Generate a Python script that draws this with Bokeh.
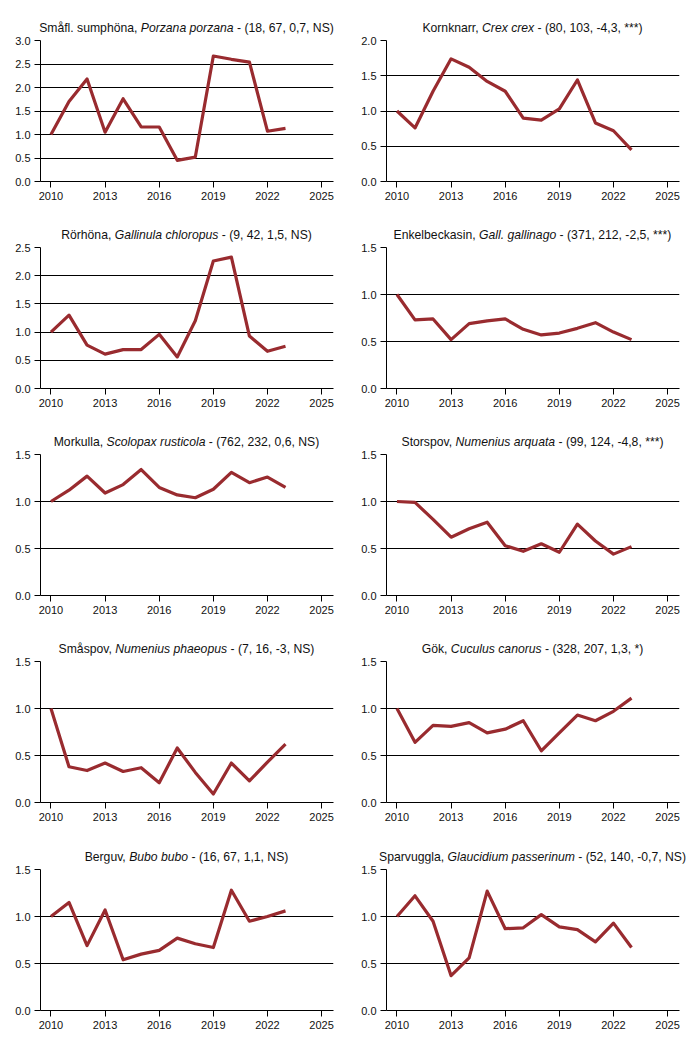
from bokeh.plotting import figure
from bokeh.layouts import column, row
from bokeh.models import Div, Range1d, FixedTicker, PrintfTickFormatter
from bokeh.embed import file_html
from bokeh.resources import INLINE

years = list(range(2010, 2024))
x_ticks = [2010, 2013, 2016, 2019, 2022, 2025]

# Index values (2010 = 1.0)
smafl_sumphona = [1.0, 1.70, 2.18, 1.05, 1.76, 1.16, 1.16, 0.45, 0.52, 2.67, 2.60, 2.54, 1.07, 1.13]
kornknarr = [1.0, 0.76, 1.28, 1.74, 1.62, 1.42, 1.28, 0.90, 0.87, 1.03, 1.44, 0.83, 0.72, 0.45]
rorhona = [1.0, 1.30, 0.77, 0.61, 0.69, 0.69, 0.96, 0.56, 1.20, 2.26, 2.33, 0.93, 0.66, 0.75]
enkelbeckasin = [1.0, 0.73, 0.74, 0.52, 0.69, 0.72, 0.74, 0.63, 0.57, 0.59, 0.64, 0.70, 0.60, 0.52]
morkulla = [1.0, 1.12, 1.27, 1.09, 1.18, 1.34, 1.15, 1.07, 1.04, 1.13, 1.31, 1.20, 1.26, 1.15]
storspov = [1.0, 0.99, 0.81, 0.62, 0.71, 0.78, 0.53, 0.47, 0.55, 0.46, 0.76, 0.58, 0.44, 0.52]
smaspov = [1.0, 0.38, 0.34, 0.42, 0.33, 0.37, 0.21, 0.58, 0.32, 0.09, 0.42, 0.23, 0.43, 0.62]
gok = [1.0, 0.64, 0.82, 0.81, 0.85, 0.74, 0.78, 0.87, 0.55, 0.74, 0.93, 0.87, 0.97, 1.11]
berguv = [1.0, 1.15, 0.69, 1.07, 0.54, 0.60, 0.64, 0.77, 0.71, 0.67, 1.28, 0.95, 1.00, 1.06]
sparvuggla = [1.0, 1.22, 0.95, 0.37, 0.56, 1.27, 0.87, 0.88, 1.02, 0.89, 0.86, 0.73, 0.93, 0.67]

common_names = ["Småfl. sumphöna", "Kornknarr", "Rörhöna", "Enkelbeckasin", "Morkulla",
                "Storspov", "Småspov", "Gök", "Berguv", "Sparvuggla"]
latin_names = ["Porzana porzana", "Crex crex", "Gallinula chloropus", "Gall. gallinago",
               "Scolopax rusticola", "Numenius arquata", "Numenius phaeopus", "Cuculus canorus",
               "Bubo bubo", "Glaucidium passerinum"]
stats = ["(18, 67, 0,7, NS)", "(80, 103, -4,3, ***)", "(9, 42, 1,5, NS)", "(371, 212, -2,5, ***)",
         "(762, 232, 0,6, NS)", "(99, 124, -4,8, ***)", "(7, 16, -3, NS)", "(328, 207, 1,3, *)",
         "(16, 67, 1,1, NS)", "(52, 140, -0,7, NS)"]
series = [smafl_sumphona, kornknarr, rorhona, enkelbeckasin, morkulla,
          storspov, smaspov, gok, berguv, sparvuggla]
y_max = [3.0, 2.0, 2.5, 1.5, 1.5, 1.5, 1.5, 1.5, 1.5, 1.5]

LINE_COLOR = "#992b2f"
FONT = "Liberation Sans"

FRAME_W = 293
FRAME_H = 141
TOP_B = 6

# per column: (figure width, left border)
COLS = [(354, 40), (338, 32)]
# per row: (title height, title padding, figure height)
ROWS = [(34, 21, 181), (26, 13, 181), (26, 13, 181), (26, 13, 182), (26, 13, 172)]


def make_title(common, latin, stat, width, left_b, div_h, pad):
    html = (
        f'<div style="margin-left:{left_b}px;width:{FRAME_W}px;display:flex;'
        f'justify-content:center;white-space:nowrap;padding-top:{pad}px;line-height:14px;'
        f'font-family:\'Liberation Sans\',Arial,sans-serif;font-size:12.2px;color:#111;">'
        f'<span>{common}, <i>{latin}</i> - {stat}</span></div>'
    )
    return Div(text=html, width=width, height=div_h, margin=(0, 0, 0, 0))


def make_fig(values, ymax, width, left_b, right_b, height, bottom_b):
    p = figure(width=width, height=height,
               x_range=Range1d(2009.42, 2025.66), y_range=Range1d(0, ymax),
               output_backend="svg", toolbar_location=None,
               min_border_left=left_b, min_border_right=right_b,
               min_border_top=TOP_B, min_border_bottom=bottom_b,
               background_fill_color="white", border_fill_color="white")
    p.outline_line_color = None
    p.line(years, values, line_color=LINE_COLOR, line_width=3.2, line_join="round")
    yt = [i * 0.5 for i in range(int(round(ymax / 0.5)) + 1)]
    p.xaxis.ticker = FixedTicker(ticks=x_ticks)
    p.yaxis.ticker = FixedTicker(ticks=yt)
    p.yaxis.formatter = PrintfTickFormatter(format="%.1f")
    p.xgrid.visible = False
    p.ygrid.grid_line_color = "black"
    p.ygrid.grid_line_width = 1
    for ax in (p.xaxis[0], p.yaxis[0]):
        ax.axis_line_color = "black"
        ax.major_tick_line_color = "black"
        ax.major_tick_out = 6
        ax.major_tick_in = 0
        ax.minor_tick_line_color = None
        ax.major_label_text_font = FONT
        ax.major_label_text_font_size = "11px"
        ax.major_label_text_color = "#111111"
        ax.major_label_standoff = 4
    return p


rows = []
for r, (div_h, pad, fig_h) in enumerate(ROWS):
    bottom_b = fig_h - TOP_B - FRAME_H
    cols = []
    for c, (width, left_b) in enumerate(COLS):
        i = r * 2 + c
        right_b = width - left_b - FRAME_W
        title = make_title(common_names[i], latin_names[i], stats[i], width, left_b, div_h, pad)
        fig = make_fig(series[i], y_max[i], width, left_b, right_b, fig_h, bottom_b)
        cols.append(column(title, fig, spacing=0))
    rows.append(row(*cols, spacing=0))

layout = column(*rows, spacing=0)

open("out.html", "w").write(file_html(layout, INLINE))
